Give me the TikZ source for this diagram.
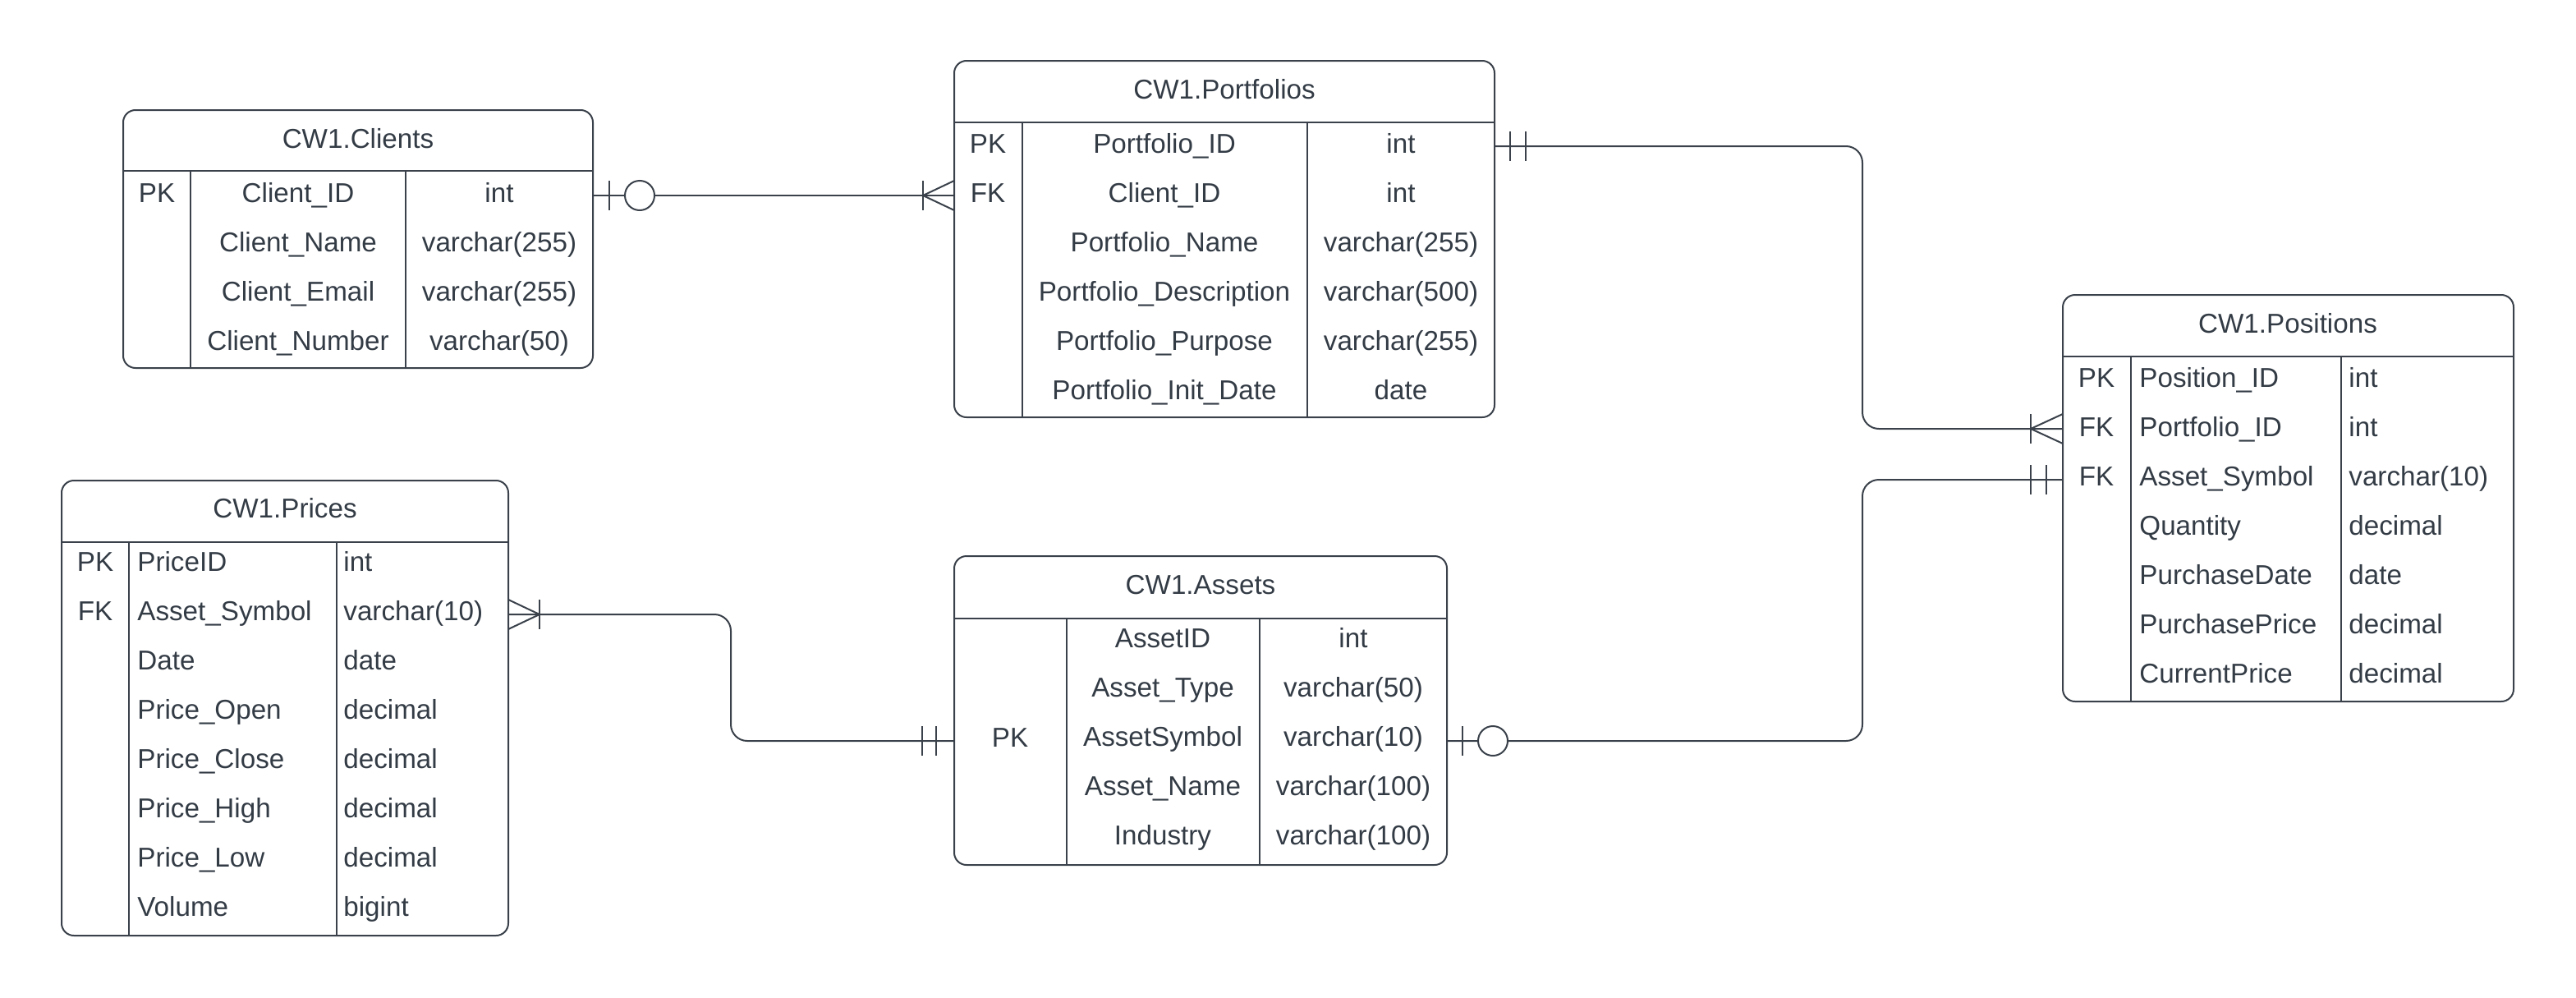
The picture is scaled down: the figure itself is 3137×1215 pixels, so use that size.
\documentclass[tikz,border=0pt]{standalone}
\usepackage{fontspec}
\setmainfont{Liberation Sans}
\usepackage{xcolor}
\usepackage{tikz}
\usetikzlibrary{fit}
\definecolor{erline}{HTML}{3A414A}
\definecolor{ertext}{HTML}{333B45}
\tikzset{
  tbl/.style={draw=erline, line width=1pt, rounded corners=7.5pt, inner sep=0pt},
  sep/.style={draw=erline, line width=0.7pt},
  conn/.style={draw=erline, line width=1pt},
  ertxt/.style={text=ertext, inner sep=0pt, text height=11.9pt, text depth=0pt, font=\fontsize{16.6pt}{20pt}\selectfont},
  lft/.style={ertxt, anchor=west},
}
\newcommand{\erbar}[2]{\draw[conn] (#1) ++(#2,-18) -- ++(0,36);}
\newcommand{\ercrow}[2]{\erbar{#1}{#2}\draw[conn] (#1) ++(0,-18) -- ++(#2,18); \draw[conn] (#1) ++(0,18) -- ++(#2,-18);}
\newcommand{\ercirc}[2]{\draw[conn, fill=white] (#1) ++(#2,0) circle[radius=18];}

\begin{document}
\begin{tikzpicture}[x=0.5pt, y=-0.5pt]
    \useasboundingbox (0,0) rectangle (3137,1215);

    \node [tbl, fit={(150,134) (722,448)}] (clients) {};
    \draw [conn] (150,208) -- (722,208);
    \draw [sep] (232,208) -- (232,448);
    \draw [sep] (494,208) -- (494,448);
    \node [ertxt] (cl-title) at (436,169) {CW1.Clients};
    \node [ertxt] (cl-k1) at (191,235) {PK};
    \node [ertxt] (cl-n1) at (363,235) {Client\_ID};      \node [ertxt] (cl-t1) at (608,235) {int};
    \node [ertxt] (cl-n2) at (363,295) {Client\_Name};    \node [ertxt] (cl-t2) at (608,295) {varchar(255)};
    \node [ertxt] (cl-n3) at (363,355) {Client\_Email};   \node [ertxt] (cl-t3) at (608,355) {varchar(255)};
    \node [ertxt] (cl-n4) at (363,415) {Client\_Number};  \node [ertxt] (cl-t4) at (608,415) {varchar(50)};

    \node [tbl, fit={(1162,74) (1820,508)}] (portfolios) {};
    \draw [conn] (1162,149) -- (1820,149);
    \draw [sep] (1245,149) -- (1245,508);
    \draw [sep] (1592,149) -- (1592,508);
    \node [ertxt] (pf-title) at (1491,109) {CW1.Portfolios};
    \node [ertxt] (pf-k1) at (1203,175) {PK};
    \node [ertxt] (pf-k2) at (1203,235) {FK};
    \node [ertxt] (pf-n1) at (1418,175) {Portfolio\_ID};           \node [ertxt] (pf-t1) at (1706,175) {int};
    \node [ertxt] (pf-n2) at (1418,235) {Client\_ID};              \node [ertxt] (pf-t2) at (1706,235) {int};
    \node [ertxt] (pf-n3) at (1418,295) {Portfolio\_Name};         \node [ertxt] (pf-t3) at (1706,295) {varchar(255)};
    \node [ertxt] (pf-n4) at (1418,355) {Portfolio\_Description};  \node [ertxt] (pf-t4) at (1706,355) {varchar(500)};
    \node [ertxt] (pf-n5) at (1418,415) {Portfolio\_Purpose};      \node [ertxt] (pf-t5) at (1706,415) {varchar(255)};
    \node [ertxt] (pf-n6) at (1418,475) {Portfolio\_Init\_Date};   \node [ertxt] (pf-t6) at (1706,475) {date};

    \node [tbl, fit={(2512,359) (3061,854)}] (positions) {};
    \draw [conn] (2512,434) -- (3061,434);
    \draw [sep] (2595,434) -- (2595,854);
    \draw [sep] (2851,434) -- (2851,854);
    \begin{scope}[every node/.append style={text=black}]
        \node [ertxt] (ps-title) at (2786,394) {CW1.Positions};
        \node [ertxt] (ps-k1) at (2553,460) {PK};
        \node [ertxt] (ps-k2) at (2553,520) {FK};
        \node [ertxt] (ps-k3) at (2553,580) {FK};
        \node [lft] (ps-n1) at (2605,460) {Position\_ID};    \node [lft] (ps-t1) at (2860,460) {int};
        \node [lft] (ps-n2) at (2605,520) {Portfolio\_ID};   \node [lft] (ps-t2) at (2860,520) {int};
        \node [lft] (ps-n3) at (2605,580) {Asset\_Symbol};   \node [lft] (ps-t3) at (2860,580) {varchar(10)};
        \node [lft] (ps-n4) at (2605,640) {Quantity};        \node [lft] (ps-t4) at (2860,640) {decimal};
        \node [lft] (ps-n5) at (2605,700) {PurchaseDate};    \node [lft] (ps-t5) at (2860,700) {date};
        \node [lft] (ps-n6) at (2605,760) {PurchasePrice};   \node [lft] (ps-t6) at (2860,760) {decimal};
        \node [lft] (ps-n7) at (2605,820) {CurrentPrice};    \node [lft] (ps-t7) at (2860,820) {decimal};
    \end{scope}

    \node [tbl, fit={(75,585) (619,1139)}] (prices) {};
    \draw [conn] (75,660) -- (619,660);
    \draw [sep] (157,660) -- (157,1139);
    \draw [sep] (410,660) -- (410,1139);
    \node [ertxt] (pr-title) at (347,619) {CW1.Prices};
    \node [ertxt] (pr-k1) at (116,684) {PK};
    \node [ertxt] (pr-k2) at (116,744) {FK};
    \node [lft] (pr-n1) at (167,684) {PriceID};        \node [lft] (pr-t1) at (418,684) {int};
    \node [lft] (pr-n2) at (167,744) {Asset\_Symbol};  \node [lft] (pr-t2) at (418,744) {varchar(10)};
    \node [lft] (pr-n3) at (167,804) {Date};           \node [lft] (pr-t3) at (418,804) {date};
    \node [lft] (pr-n4) at (167,864) {Price\_Open};    \node [lft] (pr-t4) at (418,864) {decimal};
    \node [lft] (pr-n5) at (167,924) {Price\_Close};   \node [lft] (pr-t5) at (418,924) {decimal};
    \node [lft] (pr-n6) at (167,984) {Price\_High};    \node [lft] (pr-t6) at (418,984) {decimal};
    \node [lft] (pr-n7) at (167,1044) {Price\_Low};    \node [lft] (pr-t7) at (418,1044) {decimal};
    \node [lft] (pr-n8) at (167,1104) {Volume};        \node [lft] (pr-t8) at (418,1104) {bigint};

    \node [tbl, fit={(1162,677) (1762,1053)}] (assets) {};
    \draw [conn] (1162,753) -- (1762,753);
    \draw [sep] (1299,753) -- (1299,1053);
    \draw [sep] (1534,753) -- (1534,1053);
    \node [ertxt] (as-title) at (1462,712) {CW1.Assets};
    \node [ertxt] (as-k1) at (1230,898) {PK};
    \node [ertxt] (as-n1) at (1416,777) {AssetID};       \node [ertxt] (as-t1) at (1648,777) {int};
    \node [ertxt] (as-n2) at (1416,837) {Asset\_Type};   \node [ertxt] (as-t2) at (1648,837) {varchar(50)};
    \node [ertxt] (as-n3) at (1416,897) {AssetSymbol};   \node [ertxt] (as-t3) at (1648,897) {varchar(10)};
    \node [ertxt] (as-n4) at (1416,957) {Asset\_Name};   \node [ertxt] (as-t4) at (1648,957) {varchar(100)};
    \node [ertxt] (as-n5) at (1416,1017) {Industry};     \node [ertxt] (as-t5) at (1648,1017) {varchar(100)};

    \coordinate (cl-a) at (722,238);
    \coordinate (pf-a) at (1162,238);
    \coordinate (pf-b) at (1820,178);
    \coordinate (ps-b) at (2512,522);
    \coordinate (ps-c) at (2512,584);
    \coordinate (as-a) at (1762,902);
    \coordinate (as-b) at (1162,902);
    \coordinate (pr-a) at (619,748);

    \draw [conn] (cl-a) -- (pf-a);
    \erbar{cl-a}{20} \ercirc{cl-a}{57}
    \ercrow{pf-a}{-38}

    \draw [conn, rounded corners=10pt] (pf-b) -- ++(448,0) |- (ps-b);
    \erbar{pf-b}{19} \erbar{pf-b}{38}
    \ercrow{ps-b}{-39}

    \draw [conn, rounded corners=10pt] (as-a) -- ++(506,0) |- (ps-c);
    \erbar{as-a}{19} \ercirc{as-a}{56}
    \erbar{ps-c}{-39} \erbar{ps-c}{-20}

    \draw [conn, rounded corners=10pt] (pr-a) -- ++(271,0) |- (as-b);
    \ercrow{pr-a}{38}
    \erbar{as-b}{-39} \erbar{as-b}{-22}
\end{tikzpicture}
\end{document}
